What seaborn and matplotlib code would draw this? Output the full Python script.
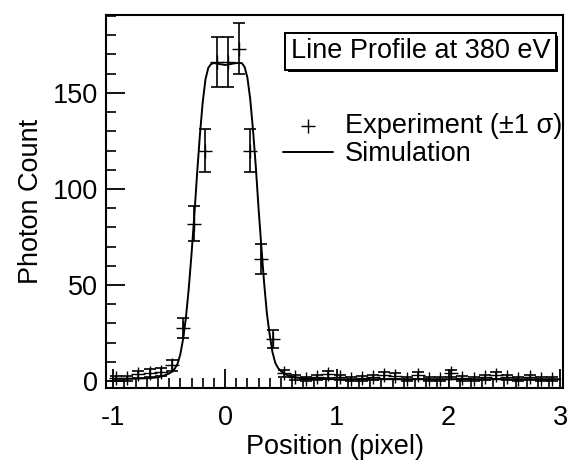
import numpy as np
import pandas as pd
import matplotlib
matplotlib.use("Agg")
import matplotlib.pyplot as plt
import matplotlib.patheffects as pe
from matplotlib.ticker import MultipleLocator
import seaborn as sns

# ---- data ----
exp_x = [-0.975, -0.875, -0.775, -0.675, -0.575, -0.475, -0.375, -0.275, -0.175, -0.075,
         0.025, 0.125, 0.225, 0.325, 0.425, 0.525, 0.625, 0.725, 0.825, 0.925,
         1.025, 1.125, 1.225, 1.325, 1.425, 1.525, 1.625, 1.725, 1.825, 1.925,
         2.025, 2.125, 2.225, 2.325, 2.425, 2.525, 2.625, 2.725, 2.825, 2.925]
exp_counts = [1.6, 1.6, 3.6, 4.2, 4.7, 8.3, 27.6, 82, 120, 166,
              166, 173, 120, 63.5, 22, 4, 2, 1.0, 2.0, 3.5,
              2.0, 1.0, 1.5, 2.0, 3.0, 2.5, 1.0, 3.0, 1.0, 1.0,
              4.0, 1.5, 1.0, 2.0, 3.0, 2.0, 1.0, 2.0, 1.0, 1.0]
exp_sigma = [1.3, 1.3, 1.9, 2.0, 2.2, 2.9, 5.3, 9.1, 11.0, 12.9,
             12.9, 13.2, 11.0, 8.0, 4.7, 2.0, 1.4, 1.0, 1.4, 1.9,
             1.4, 1.0, 1.2, 1.4, 1.7, 1.6, 1.0, 1.7, 1.0, 1.0,
             2.0, 1.2, 1.0, 1.4, 1.7, 1.4, 1.0, 1.4, 1.0, 1.0]

sim_x = [-1.0, -0.9, -0.8, -0.7, -0.6, -0.55, -0.5, -0.475, -0.45, -0.425,
         -0.4, -0.375, -0.35, -0.325, -0.3, -0.275, -0.25, -0.225, -0.2, -0.175,
         -0.15, -0.125, -0.1, -0.05, 0.0, 0.05, 0.1, 0.125, 0.15, 0.175,
         0.2, 0.225, 0.25, 0.275, 0.3, 0.325, 0.35, 0.375, 0.4, 0.425,
         0.45, 0.475, 0.5, 0.55, 0.6, 0.65, 0.7, 0.8, 0.9, 1.0,
         1.5, 2.0, 2.5, 3.0]
sim_counts = [1.2, 1.2, 1.3, 1.5, 2.0, 2.8, 4.0, 5.0, 6.5, 9,
              14, 22, 33, 48, 66, 86, 108, 128, 145, 157,
              163, 165, 165.5, 165, 164.5, 165, 165.5, 165.5, 165.5, 163.5,
              158, 147, 131, 112, 90, 70, 51, 35, 24, 15,
              9.5, 6.8, 5.2, 3.3, 2.4, 1.8, 1.5, 1.2, 1.1, 1.0,
              1.0, 1.0, 1.0, 1.0]

title_text = "Line Profile at 380 eV"
exp_label = "Experiment (\u00b11 \u03c3)"
sim_label = "Simulation"
x_ticks = [-1, 0, 1, 2, 3]
y_ticks = [0, 50, 100, 150]

# ---- style ----
sns.set_style("ticks")
plt.rcParams['font.family'] = ['Liberation Sans', 'DejaVu Sans']
plt.rcParams['text.color'] = 'black'
plt.rcParams['axes.labelcolor'] = 'black'
plt.rcParams['xtick.color'] = 'black'
plt.rcParams['ytick.color'] = 'black'
plt.rcParams['axes.edgecolor'] = 'black'

FS = 19.5
fig = plt.figure(figsize=(5.67, 4.62), dpi=100)
ax = fig.add_axes([0.187, 0.160, 0.806, 0.8075])

sim_df = pd.DataFrame({"x": sim_x, "y": sim_counts})
exp_df = pd.DataFrame({"x": exp_x, "y": exp_counts, "s": exp_sigma})

ax.errorbar(exp_df["x"], exp_df["y"], yerr=exp_df["s"], fmt="none",
            ecolor="black", elinewidth=1.2, capsize=4, capthick=1.2, zorder=3)
sns.scatterplot(data=exp_df, x="x", y="y", marker="+", s=90, color="black",
                linewidth=1.0, ax=ax, label=exp_label, zorder=4)
sns.lineplot(data=sim_df, x="x", y="y", color="black", linewidth=1.4,
             ax=ax, label=sim_label, zorder=2)

ax.set_xlim(-1.065, 3.025)
ax.set_ylim(-3.6, 190.5)
ax.set_xticks(x_ticks)
ax.set_xticklabels([str(v) for v in x_ticks])
ax.set_yticks(y_ticks)
ax.xaxis.set_minor_locator(MultipleLocator(0.1))
ax.yaxis.set_minor_locator(MultipleLocator(10))
ax.tick_params(which="major", direction="in", length=14, width=1.3,
               labelsize=FS, top=False, right=False, colors="black")
ax.tick_params(axis="x", which="major", pad=12)
ax.tick_params(axis="y", which="major", pad=6)
ax.tick_params(which="minor", direction="in", length=7.5, width=1.2,
               top=False, right=False, colors="black")
for sp in ax.spines.values():
    sp.set_linewidth(1.5)
    sp.set_color("black")
    sp.set_visible(True)

ax.set_xlabel("Position (pixel)", fontsize=FS, labelpad=2)
ax.set_ylabel("Photon Count", fontsize=FS, labelpad=6)

t = ax.text(0.972, 0.903, title_text, transform=ax.transAxes, fontsize=FS,
            ha="right", va="center", color="black",
            bbox=dict(boxstyle="square,pad=0.2", facecolor="white",
                      edgecolor="black", linewidth=1.4))
t.get_bbox_patch().set_path_effects([
    pe.withSimplePatchShadow(offset=(2, -2), shadow_rgbFace="black", alpha=1.0),
    pe.Normal()])

leg = ax.legend(loc="center left", bbox_to_anchor=(0.387, 0.665), frameon=False,
                fontsize=FS, handlelength=1.85, handletextpad=0.45,
                labelspacing=0.1, borderaxespad=0.0, borderpad=0.0)
for txt in leg.get_texts():
    txt.set_color("black")

fig.savefig("out.png", dpi=100)
